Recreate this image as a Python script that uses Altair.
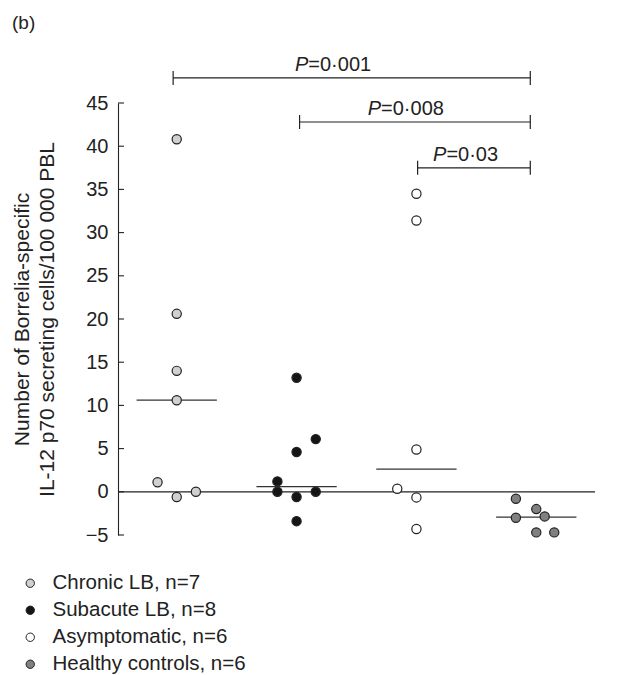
import altair as alt
import pandas as pd
import numpy as np

FONT = "Liberation Sans"
INK = "#222222"

# ---- data ----
groups = ["Chronic LB", "Subacute LB", "Asymptomatic", "Healthy controls"]
group_pos = [1, 2, 3, 4]
fills = ["#d0d0d0", "#151515", "#ffffff", "#808080"]

chronic_vals = [40.8, 20.6, 14.0, 10.6, 1.1, -0.6, 0.0]
chronic_off = [0, 0, 0, 0, -0.16, 0, 0.16]
subacute_vals = [13.2, 6.1, 4.6, 1.2, 0.0, -0.6, 0.0, -3.4]
subacute_off = [0, 0.16, 0, -0.16, -0.16, 0, 0.16, 0]
asym_vals = [34.5, 31.4, 4.9, 0.35, -0.65, -4.3]
asym_off = [0, 0, 0, -0.16, 0, 0]
healthy_vals = [-0.8, -2.0, -3.0, -2.85, -4.7, -4.7]
healthy_off = [-0.17, 0, -0.17, 0.07, 0, 0.15]

y_ticks = [-5, 0, 5, 10, 15, 20, 25, 30, 35, 40, 45]

br_x1 = [0.97, 2.025, 3.01]
br_x2 = [3.95, 3.95, 3.95]
br_y = [47.9, 42.8, 37.5]
br_text_x = [1.987, 2.594, 3.139]
br_label = ["=0·001", "=0·008", "=0·03"]

# ---- tables ----
all_vals = [chronic_vals, subacute_vals, asym_vals, healthy_vals]
all_offs = [chronic_off, subacute_off, asym_off, healthy_off]
labels = [f"{g}, n={len(v)}" for g, v in zip(groups, all_vals)]

rows = []
for lab, pos, vals, offs in zip(labels, group_pos, all_vals, all_offs):
    for v, o in zip(vals, offs):
        rows.append({"group": lab, "x": pos + o, "y": v})
pts = pd.DataFrame(rows)

half_w = 0.335
med = pd.DataFrame({
    "x": [p - half_w for p in group_pos],
    "x2": [p + half_w for p in group_pos],
    "y": [float(np.median(v)) for v in all_vals],
})

br = pd.DataFrame({"x": br_x1, "x2": br_x2, "y": br_y,
                   "tx": br_text_x, "label": br_label})
cap_h = 0.81
caps = pd.DataFrame({
    "x": br_x1 + br_x2,
    "y": [y - cap_h for y in br_y] * 2,
    "y2": [y + cap_h for y in br_y] * 2,
})

x_dom = [0.51, 4.49]
tick_df = pd.DataFrame({"y": y_ticks, "x": x_dom[0], "x2": x_dom[0] + 0.05})

xs = alt.Scale(domain=x_dom, nice=False, zero=False)
ys = alt.Scale(domain=[-5, 45], nice=False, zero=False)

y_axis = alt.Axis(
    values=y_ticks, ticks=False, grid=False, domainColor=INK, domainWidth=1.1,
    labelFont=FONT, labelFontSize=20, labelColor=INK, labelPadding=10,
    title=["Number of Borrelia-specific", "IL-12 p70 secreting cells/100 000 PBL"],
    titleFont=FONT, titleFontSize=21, titleFontWeight="normal", titleColor=INK,
    titleAngle=270, titleX=-86, titleY=216, titleAlign="center",
    titleBaseline="bottom", titleLineHeight=25,
)


def X(f="x"):
    return alt.X(f"{f}:Q", scale=xs, axis=None)


def Y(f="y"):
    return alt.Y(f"{f}:Q", scale=ys, axis=y_axis)


zero = alt.Chart(pd.DataFrame({"y": [0]})).mark_rule(color=INK, strokeWidth=1.2).encode(
    y=Y()
)

inner_ticks = alt.Chart(tick_df).mark_rule(color=INK, strokeWidth=1.1).encode(
    x=X(), x2="x2:Q", y=Y()
)

med_lines = alt.Chart(med).mark_rule(color="#333333", strokeWidth=1.2).encode(
    x=X(), x2="x2:Q", y=Y()
)

points = alt.Chart(pts).mark_point(
    shape="circle", filled=True, size=85, stroke=INK, strokeWidth=1.2, opacity=1
).encode(
    x=X(), y=Y(),
    fill=alt.Fill("group:N", scale=alt.Scale(domain=labels, range=fills),
                  legend=alt.Legend(
                      title=None, orient="none", legendX=-98, legendY=470,
                      labelFont=FONT, labelFontSize=20.5, labelColor=INK,
                      labelLimit=0,
                      symbolType="circle", symbolSize=70, symbolStrokeColor=INK,
                      symbolStrokeWidth=1, labelOffset=12, rowPadding=6,
                      padding=0, symbolOpacity=1,
                  )),
)

br_lines = alt.Chart(br).mark_rule(color=INK, strokeWidth=1.2).encode(
    x=X(), x2="x2:Q", y=Y()
)
br_caps = alt.Chart(caps).mark_rule(color=INK, strokeWidth=1.2).encode(
    x=X(), y=Y(), y2="y2:Q"
)
p_text = alt.Chart(br).mark_text(
    text="P", font=FONT, fontSize=20, fontStyle="italic", align="left",
    baseline="alphabetic", dy=-7, color=INK
).encode(x=X("tx"), y=Y())
rest_text = alt.Chart(br).mark_text(
    font=FONT, fontSize=20, align="left", baseline="alphabetic", dx=13.3, dy=-7,
    color=INK
).encode(x=X("tx"), y=Y(), text="label:N")

chart = alt.layer(
    zero, inner_ticks, med_lines, br_lines, br_caps, p_text, rest_text, points
).properties(
    width=477, height=432,
    autosize=alt.AutoSizeParams(type="none"),
    padding={"left": 110, "top": 95, "right": 20, "bottom": 150},
    title=alt.TitleParams("(b)", anchor="start", frame="group", font=FONT,
                          fontSize=19, fontWeight="normal", color=INK,
                          dx=-106, offset=22),
).configure(
    background="white",
    view=alt.ViewConfig(stroke="transparent", strokeWidth=0),
)

chart.save("out.html", embed_options={"renderer": "svg", "actions": False})
